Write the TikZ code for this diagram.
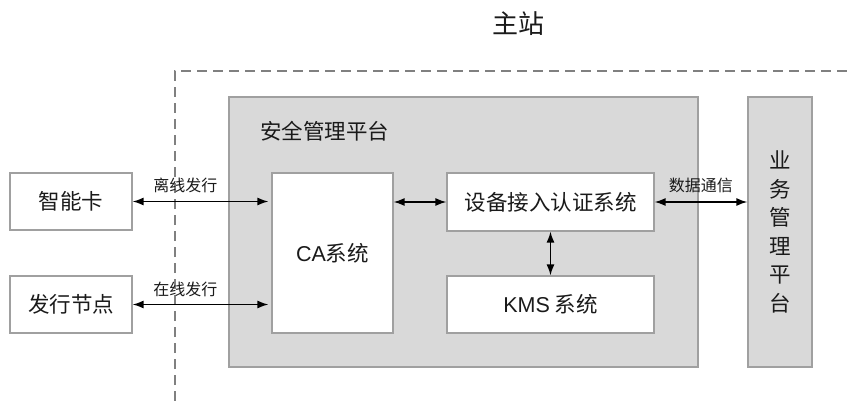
\documentclass[tikz,border=0pt]{standalone}
\usepackage{fontspec}
\setmainfont{Noto Sans CJK SC}
\newfontfamily\latinfont{Liberation Sans}
\usetikzlibrary{arrows.meta}

\definecolor{panelgray}{HTML}{D9D9D9}
\definecolor{edgegray}{HTML}{A0A0A0}
\definecolor{dashgray}{HTML}{808080}
\definecolor{inktext}{HTML}{1A1A1A}

\tikzset{
  panel/.style={draw=edgegray, fill=panelgray, line width=1.3pt, inner sep=0pt},
  whitebox/.style={draw=edgegray, fill=white, line width=1.2pt, inner sep=0pt,
    text=inktext, font=\fontsize{21.5}{24}\selectfont},
  link/.style={line width=1.5pt, {Latex[length=11pt,width=8pt]}-{Latex[length=11pt,width=8pt]}},
  linklabel/.style={font=\fontsize{16}{18}\selectfont, text=inktext, inner sep=0pt},
  zone/.style={draw=dashgray, line width=1.2pt, dash pattern=on 10pt off 6pt}
}

\begin{document}
\begin{tikzpicture}[x=1pt, y=-1pt]
  \useasboundingbox (0,0) rectangle (853,401);

  % station boundary
  \coordinate (zoneBottom) at (175,401);
  \coordinate (zoneCorner) at (175,71);
  \coordinate (zoneRight) at (853,71);
  \draw[zone] (zoneBottom) -- (zoneCorner) -- (zoneRight);

  \node[font=\fontsize{26}{30}\selectfont, text=inktext] (station) at (518,24) {主站};

  % security management platform
  \node[panel, minimum width=469pt, minimum height=270pt] (plat) at (463.5,232) {};
  \node[anchor=west, font=\fontsize{21.5}{24}\selectfont, text=inktext, inner sep=0pt]
    (platTitle) at (260,131) {安全管理平台};

  \node[whitebox, minimum width=121pt, minimum height=160pt] (ca) at (332.5,253)
    {{\latinfont CA}系统};
  \node[whitebox, minimum width=207pt, minimum height=58pt] (dev) at (550.5,202)
    {设备接入认证系统};
  \node[whitebox, minimum width=207pt, minimum height=57pt] (kms) at (550.5,304.5)
    {{\latinfont KMS} 系统};

  % business management platform
  \node[panel, minimum width=64pt, minimum height=270pt, align=center,
    text=inktext, font=\fontsize{21.5}{28.5}\selectfont] (biz) at (780,232)
    {业\\务\\管\\理\\平\\台};

  % external parties
  \node[whitebox, minimum width=122pt, minimum height=57pt] (card) at (71,201.5) {智能卡};
  \node[whitebox, minimum width=122pt, minimum height=57pt] (issuer) at (71,304.5) {发行节点};

  % connections
  \draw[link, shorten >=3pt] (card.east) -- (card.east -| ca.west)
    node[linklabel, pos=0.38, above=8pt] (offLbl) {离线发行};
  \draw[link, shorten >=3pt] (issuer.east) -- (issuer.east -| ca.west)
    node[linklabel, pos=0.38, above=7pt] (onLbl) {在线发行};
  \draw[link] (dev.west -| ca.east) -- (dev.west);
  \draw[link] (dev.south) -- (kms.north);
  \draw[link] (dev.east) -- (dev.east -| biz.west)
    node[linklabel, midway, above=8pt] (dataLbl) {数据通信};
\end{tikzpicture}
\end{document}
